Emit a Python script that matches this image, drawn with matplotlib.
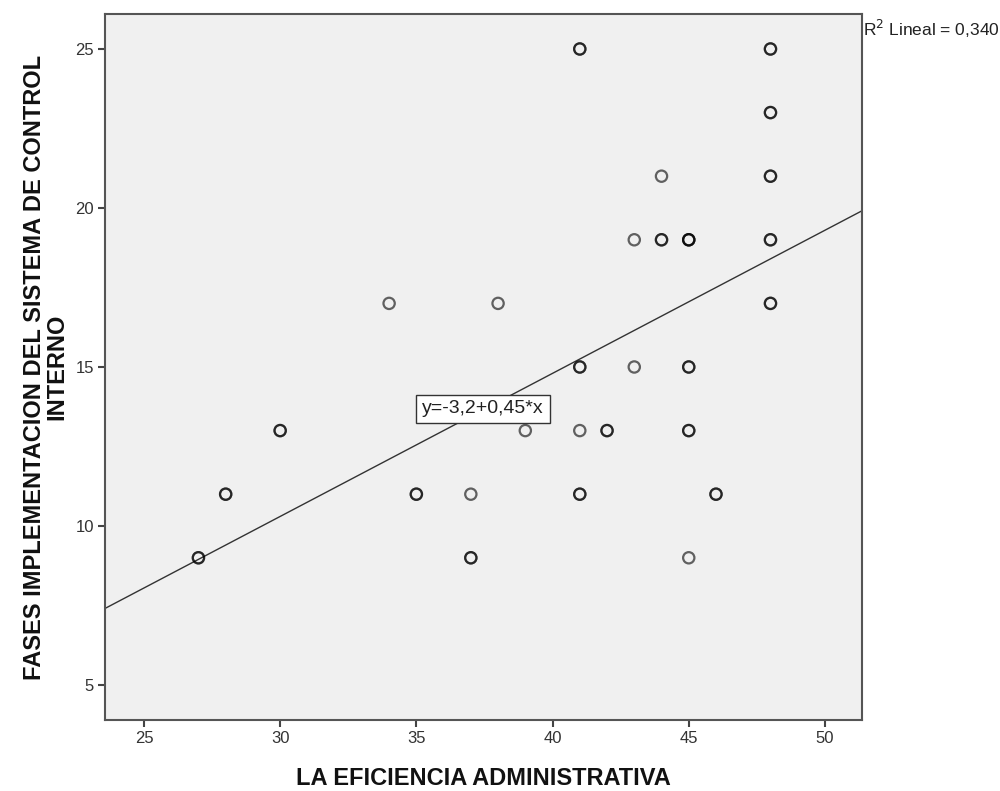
import matplotlib
matplotlib.use("Agg")
import matplotlib.pyplot as plt
import numpy as np

plt.rcParams['font.family'] = ['Liberation Sans', 'DejaVu Sans']

# Observations (repeated pairs are overlapping cases)
eficiencia = [27, 27, 28, 28, 30, 30, 34, 35, 35, 37, 37, 37, 38, 39,
              41, 41, 41, 41, 41, 41, 41, 42, 42, 43, 43, 44, 44, 44,
              45, 45, 45, 45, 45, 45, 45, 45, 46, 46,
              48, 48, 48, 48, 48, 48, 48, 48, 48, 48]
fases = [9, 9, 11, 11, 13, 13, 17, 11, 11, 11, 9, 9, 17, 13,
         25, 25, 15, 15, 13, 11, 11, 13, 13, 19, 15, 21, 19, 19,
         19, 19, 19, 15, 15, 13, 13, 9, 11, 11,
         25, 25, 23, 23, 21, 21, 19, 19, 17, 17]

# Linear fit reported by the model
intercept = -3.2
slope = 0.45
r2_label = "0,340"

xticks = [25, 30, 35, 40, 45, 50]
yticks = [5, 10, 15, 20, 25]

fig = plt.figure(figsize=(10, 7.91), dpi=100)
ax = fig.add_axes([0.105, 0.0898, 0.757, 0.8925])
ax.set_facecolor('#F0F0F0')

ax.scatter(eficiencia, fases, s=66, facecolors='none',
           edgecolors=(0, 0, 0, 0.6), linewidths=1.6, zorder=3)

xmin, xmax = 23.57, 51.36
ax.set_xlim(xmin, xmax)
ax.set_ylim(3.9, 26.1)
xl = np.array([xmin, xmax])
ax.plot(xl, intercept + slope * xl, color='#333333', lw=1.0, zorder=2)

ax.text(37.45, 13.68, "y=-3,2+0,45*x", fontsize=14, ha='center', va='center',
        color='#222222',
        bbox=dict(boxstyle='square,pad=0.3', fc='white', ec='#333333', lw=1.0),
        zorder=4)

ax.set_xticks(xticks)
ax.set_yticks(yticks)
ax.tick_params(direction='out', length=5, width=1.5, color='#444444',
               labelsize=12, labelcolor='#333333', pad=3)
for sp in ax.spines.values():
    sp.set_color('#555555')
    sp.set_linewidth(1.5)

ax.set_xlabel("LA EFICIENCIA ADMINISTRATIVA", fontsize=17, fontweight='bold',
              color='#111111')
ax.xaxis.set_label_coords(0.5, -0.066)
ax.set_ylabel("FASES IMPLEMENTACION DEL SISTEMA DE CONTROL\nINTERNO",
              fontsize=17, fontweight='bold', color='#111111',
              linespacing=0.95)
ax.yaxis.set_label_coords(-0.049, 0.5)

fig.text(0.863, 0.964, "R$^2$ Lineal = " + r2_label, fontsize=12.5,
         color='#222222', ha='left', va='center')

fig.savefig("out.png", dpi=100)
